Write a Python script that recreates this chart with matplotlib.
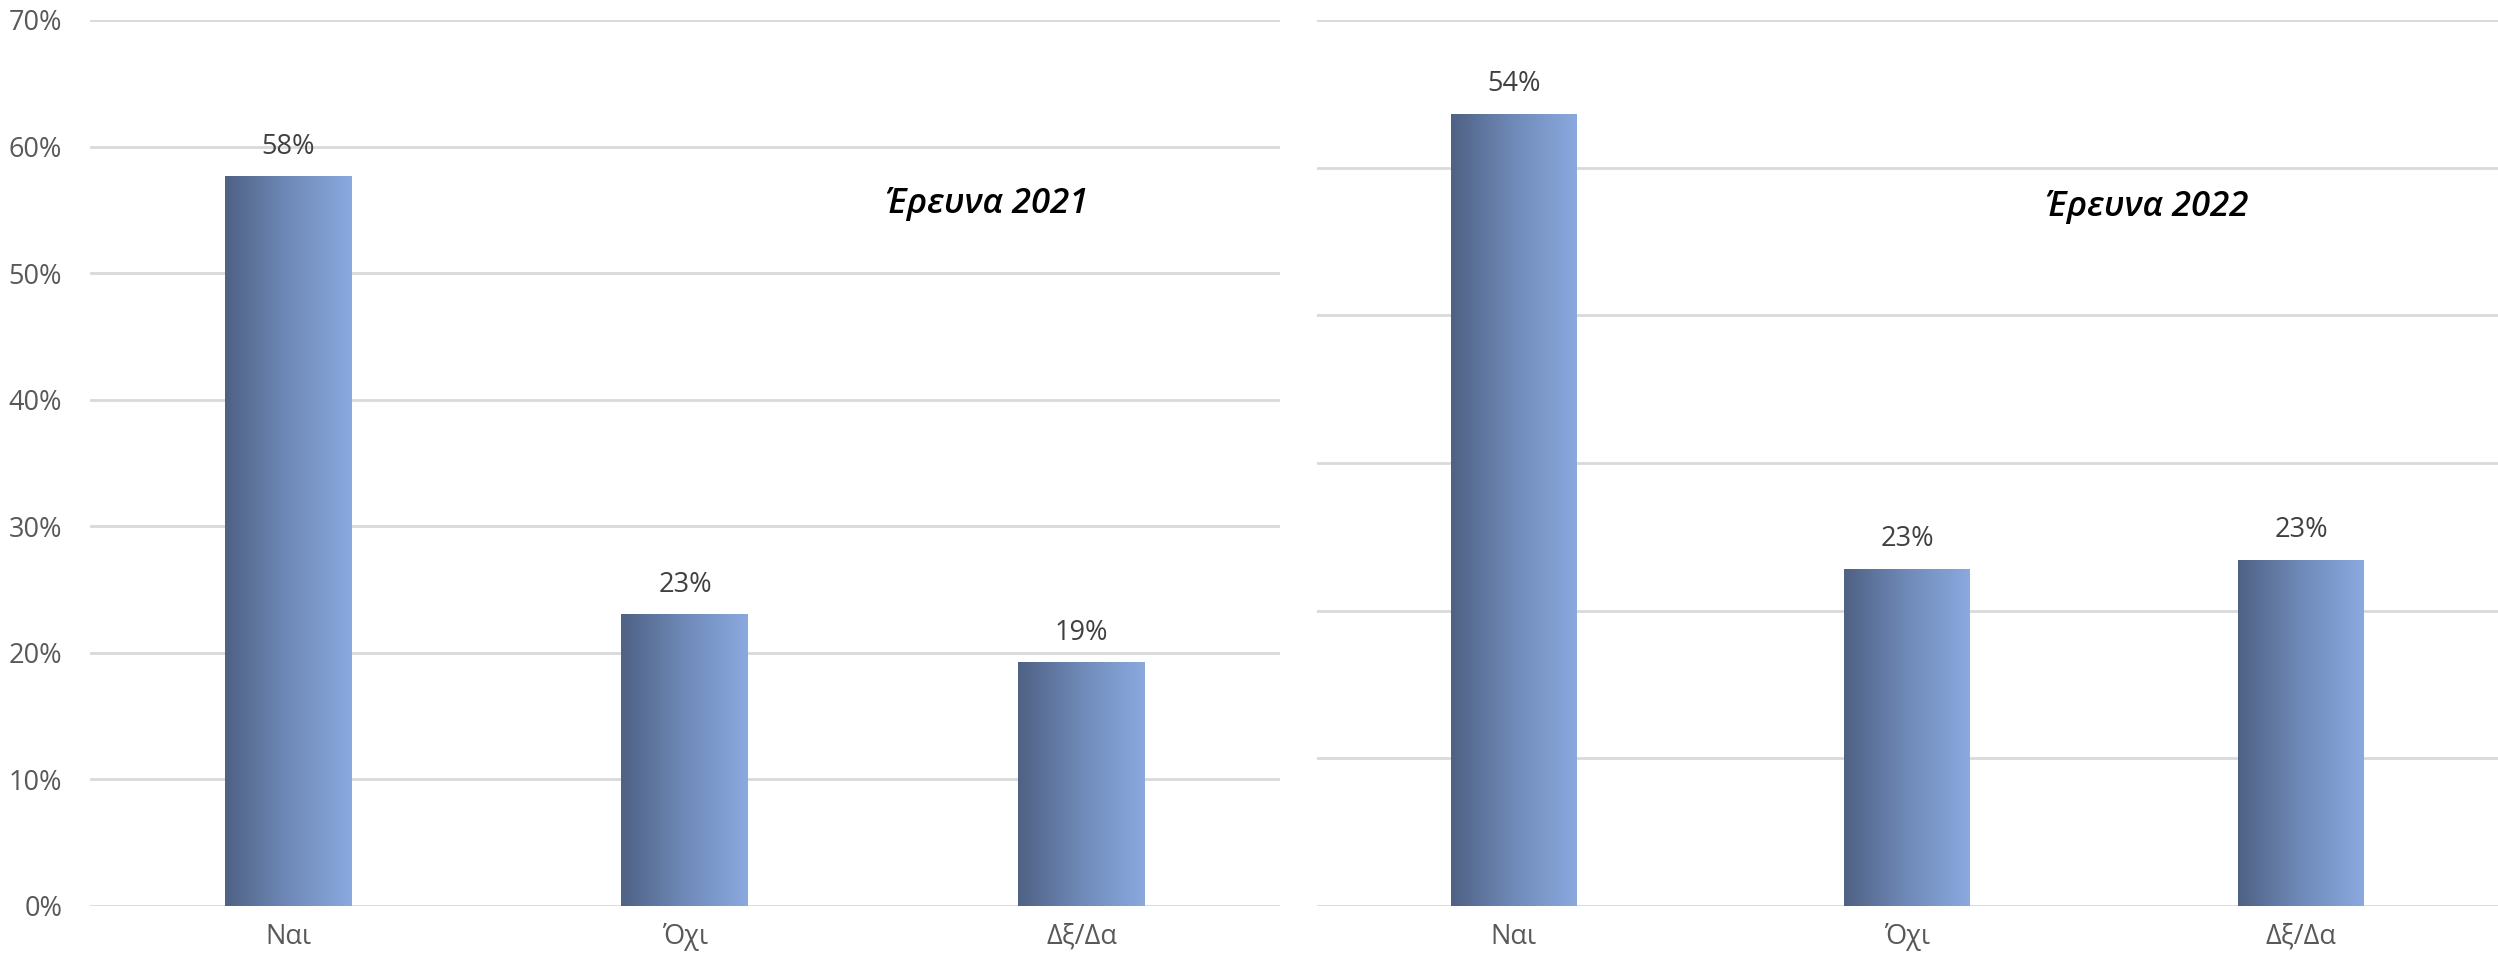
import numpy as np
import matplotlib
matplotlib.use("Agg")
import matplotlib.pyplot as plt
from matplotlib.colors import LinearSegmentedColormap
from matplotlib.ticker import PercentFormatter

plt.rcParams['font.family'] = ['Open Sans', 'DejaVu Sans']

categories = ['Ναι', 'Όχι', 'Δξ/Δα']
values_2021 = [0.576, 0.230, 0.192]
labels_2021 = ['58%', '23%', '19%']
values_2022 = [0.536, 0.228, 0.234]
labels_2022 = ['54%', '23%', '23%']
titles = ['Έρευνα 2021', 'Έρευνα 2022']

grad = LinearSegmentedColormap.from_list('bar', ['#4f6184', '#6f8ab8', '#8aa9df'])
grid_col = '#d9d9d9'


def draw_panel(ax, values, labels, ymax, title, title_xy, show_yticks):
    x = np.arange(len(categories))
    width = 0.32
    bars = ax.bar(x, values, width, color='none', zorder=3)
    g = np.linspace(0, 1, 256).reshape(1, -1)
    for b in bars:
        x0, y0 = b.get_x(), b.get_y()
        ax.imshow(g, cmap=grad, aspect='auto', zorder=3,
                  extent=[x0, x0 + b.get_width(), y0, y0 + b.get_height()])
    for xi, v, lab in zip(x, values, labels):
        ax.text(xi, v + ymax * 0.018, lab, ha='center', va='bottom',
                fontsize=19.5, color='#404040')
    ax.set_xlim(-0.5, len(categories) - 0.5)
    ax.set_ylim(0, ymax)
    ax.set_yticks(np.arange(0, ymax + 0.001, 0.1))
    ax.yaxis.set_major_formatter(PercentFormatter(1.0, decimals=0))
    ax.grid(axis='y', color=grid_col, linewidth=2, zorder=0)
    ax.set_axisbelow(True)
    for s in ax.spines.values():
        s.set_visible(False)
    ax.set_xticks(x)
    ax.set_xticklabels(categories, fontsize=19.5, color='#595959')
    ax.tick_params(axis='both', length=0)
    ax.tick_params(axis='x', pad=12)
    ax.tick_params(axis='y', labelsize=19.5, labelcolor='#595959', pad=20)
    if not show_yticks:
        ax.set_yticklabels([])
    ax.text(title_xy[0], title_xy[1], title, transform=ax.transAxes,
            ha='center', va='center', fontsize=25, style='italic',
            fontweight='semibold', color='black')


fig = plt.figure(figsize=(24.98, 9.6), dpi=100)
ax1 = fig.add_axes([0.036, 0.05625, 0.4764, 0.923])
ax2 = fig.add_axes([0.5272, 0.05625, 0.4728, 0.923])

draw_panel(ax1, values_2021, labels_2021, 0.7, titles[0], (0.754, 0.792), True)
draw_panel(ax2, values_2022, labels_2022, 0.6, titles[1], (0.703, 0.789), False)

fig.savefig('out.png', dpi=100)
